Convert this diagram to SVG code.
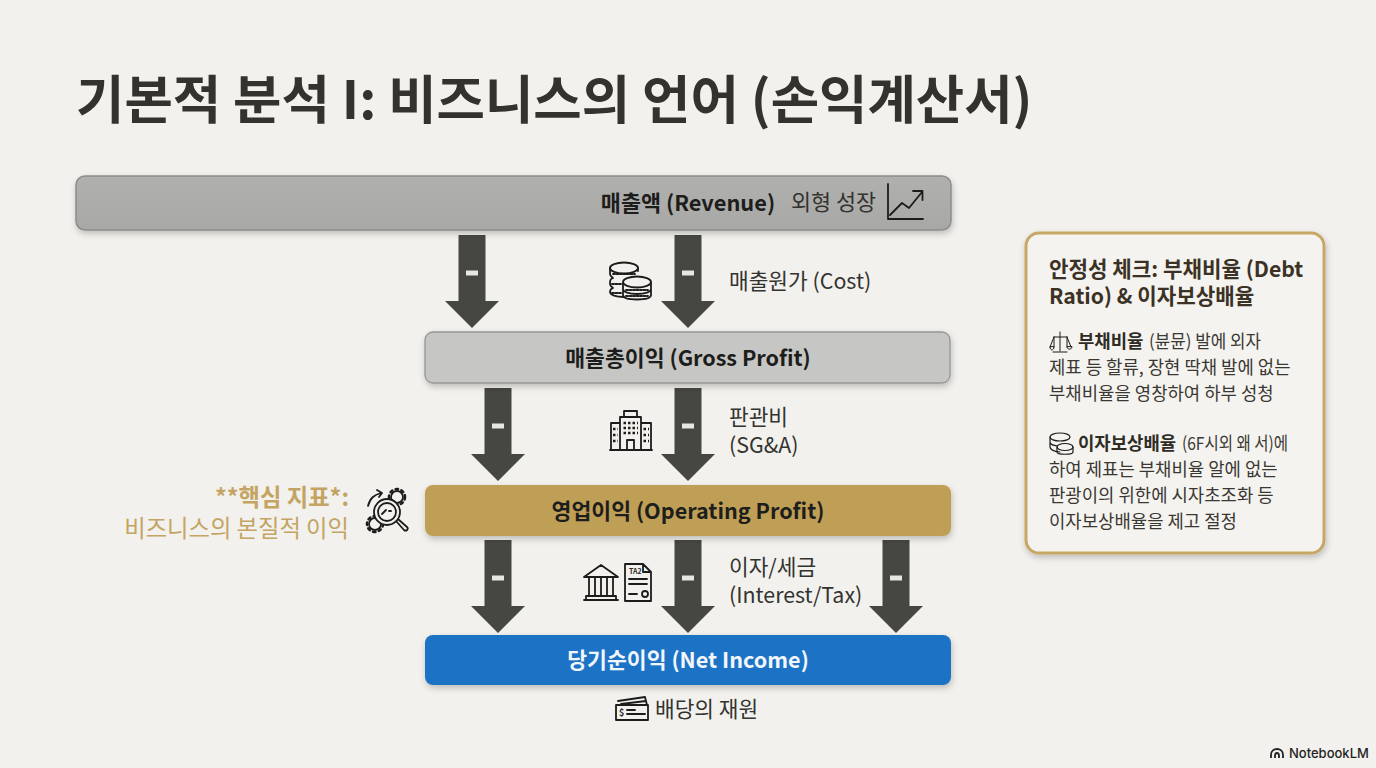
<svg xmlns="http://www.w3.org/2000/svg" width="1376" height="768" viewBox="0 0 1376 768">
<style>
text{font-family:"Noto Sans CJK KR","Noto Sans",sans-serif;fill:#2b2b28}
.b{font-weight:700}
.m{font-size:21.6px;font-weight:700;text-anchor:middle;fill:#1d1d1b}
.l{font-size:21.4px;fill:#333330}
.p{font-size:17.8px;fill:#3a3833}
.ph{font-size:17.8px;font-weight:700;fill:#2f2c26}
.h{font-size:21.2px;font-weight:700;fill:#3b3225}
.i{fill:none;stroke:#1c1c1a;stroke-width:1.8;stroke-linejoin:round;stroke-linecap:round}
.ar{fill:#464642}
.mn{fill:#e6e6e2}
</style>
<defs>
<filter id="s" x="-5%" y="-20%" width="110%" height="150%"><feDropShadow dx="1" dy="3" stdDeviation="3" flood-color="#000" flood-opacity=".22"/></filter>
<linearGradient id="g1" x1="0" y1="0" x2="0" y2="1"><stop offset="0" stop-color="#b0b0ae"/><stop offset="1" stop-color="#a8a8a6"/></linearGradient>
<path id="a" class="ar" d="M-13.500 0H13.500V66H27L0 93-27 66H-13.500Z"/>
<rect id="d" class="mn" x="-6" y="-2.500" width="12" height="5"/>
</defs>
<rect width="1376" height="768" fill="#f2f1ed"/>
<text id="title" x="76" y="119" class="b" style="font-size:52.600px;fill:#33322e">기본적 분석 I: 비즈니스의 언어 (손익계산서)</text>

<g id="connectors">
<use href="#a" x="472" y="235"/><use href="#d" x="472" y="273"/>
<use href="#a" x="688" y="235"/><use href="#d" x="688" y="273"/>
<use href="#a" x="498" y="388"/><use href="#d" x="498" y="426"/>
<use href="#a" x="688" y="388"/><use href="#d" x="688" y="426"/>
<use href="#a" x="498" y="540"/><use href="#d" x="498" y="578"/>
<use href="#a" x="688" y="540"/><use href="#d" x="688" y="578"/>
<use href="#a" x="896" y="540"/><use href="#d" x="896" y="578"/>
</g>

<g id="node-revenue">
<rect x="76" y="176" width="875" height="54" rx="9" fill="url(#g1)" stroke="#8c8c8a" stroke-width="1.500" filter="url(#s)"/>
<text class="m" x="688" y="211" style="font-size:21.800px">매출액 (Revenue)</text>
<text class="l" x="791" y="210" style="font-size:21.800px">외형 성장</text>
<path class="i" d="M888 184V219H923M890 215L902 203 909 208 922 192M913 191H922.500V200"/>
</g>
<g id="node-gross">
<rect x="425" y="332" width="525" height="51" rx="8" fill="#c6c6c4" stroke="#969694" stroke-width="1.300" filter="url(#s)"/>
<text class="m" x="688" y="366">매출총이익 (Gross Profit)</text>
</g>
<g id="node-operating">
<rect x="425" y="485" width="526" height="51" rx="8" fill="#bf9f54" filter="url(#s)"/>
<text class="m" x="688" y="519">영업이익 (Operating Profit)</text>
</g>
<g id="node-net">
<rect x="425" y="635" width="526" height="50" rx="8" fill="#1a73c6" filter="url(#s)"/>
<text class="m" x="688" y="668" style="fill:#f2f6fa">당기순이익 (Net Income)</text>
</g>

<g id="label-cost">
<g class="i"><path d="M610 268V274C610 276 612 277 613 278 610 279 610 281 610 284 610 286 612 287 613 288 610 289 610 291 610 292 610 295 616 297 624 297M638 268V271"/><ellipse cx="624" cy="268" rx="14" ry="5.500"/><path d="M613 274H635M612 284H622M612 293H622" stroke-dasharray="2 1.500"/><path d="M623 283V295C623 298 629 299.500 637 299.500S651 298 651 295V283M623 289C623 292 629 294 637 294S651 292 651 289"/><ellipse cx="637" cy="282" rx="14" ry="5.500" fill="#f2f1ed"/><path d="M626 290H648M626 296H648" stroke-dasharray="2 1.500"/></g>
<text class="l" x="729" y="289">매출원가 (Cost)</text>
</g>
<g id="label-sga">
<path class="i" d="M610 450H652M611 450V423H620M651 450V423H641M620 450V417H641V450M624 417V411H637V417M627 450V440H634V450"/>
<path fill="none" stroke="#1c1c1a" stroke-width="2.500" stroke-dasharray="2.500 2" d="M623.500 423H638M623.500 428H638M623.500 433H638M613 429H618M613 435H618M613 441H618M643.500 429H649M643.500 435H649M643.500 441H649"/>
<text class="l" x="729" y="425">판관비</text>
<text class="l" x="729" y="453">(SG&amp;A)</text>
</g>
<g id="label-core">
<text x="349" y="506" text-anchor="end" class="b" style="font-size:23.300px;fill:#c4a463">**핵심 지표*:</text>
<text x="349" y="537" text-anchor="end" style="font-size:23.300px;fill:#c4a463">비즈니스의 본질적 이익</text>
<g class="i"><circle cx="397" cy="497" r="6"/><circle cx="397" cy="497" r="8" stroke-width="2.500" stroke-dasharray="2.500 3.500"/><circle cx="375" cy="524" r="6"/><circle cx="375" cy="524" r="8" stroke-width="2.500" stroke-dasharray="2.500 3.500"/><circle cx="387" cy="512" r="13" fill="#f2f1ed"/><circle cx="387" cy="512" r="9"/><path d="M396.500 521.500L404 530C406 532 409 529 407 527L398.500 519.500M382 514L386 510M389 511H391M368 506C370 498 374 495 381 493M377 490L382 493 379 497"/></g>
</g>
<g id="label-tax">
<path class="i" d="M584 600H618M586 596H616V600H586ZM601 565L618 577H584ZM589 577V596M595 577V596M601 577V596M607 577V596M613 577V596"/>
<path class="i" d="M625 564H643L651 572V601H625ZM643 564V572H651M629 579H647M629 584H647M629 594H637"/><circle class="i" cx="645" cy="594" r="3"/>
<text x="629" y="574" style="font-size:7px;font-weight:700">TA2</text>
<text class="l" x="729" y="575">이자/세금</text>
<text class="l" x="729" y="603">(Interest/Tax)</text>
</g>
<g id="label-dividend">
<path class="i" d="M616 705H648V720H616ZM618 701L645 697 647 705M621 704L646 701"/>
<text x="619" y="716" style="font-size:9px;font-weight:700">$</text>
<path class="i" d="M627 710H635M627 714H645"/>
<text class="l" x="655" y="717">배당의 재원</text>
</g>

<g id="panel">
<rect x="1026" y="233" width="298" height="320" rx="13" fill="#f4f3ef" stroke="#c6a765" stroke-width="3" filter="url(#s)"/>
<text class="h" x="1049" y="277">안정성 체크: 부채비율 (Debt</text>
<text class="h" x="1049" y="304">Ratio) &amp; 이자보상배율</text>
<path class="i" style="stroke-width:1" d="M1060 332V351M1053 352H1067M1054 337H1067M1054 337L1050 347M1054 337L1054 347M1067 337L1067 347M1067 337L1071 347M1050 347C1050 351 1054 351 1054 347ZM1067 347C1067 350 1072 350 1072 347Z"/>
<text class="ph" x="1078" y="348">부채비율</text>
<text class="p" x="1149" y="348" textLength="112" lengthAdjust="spacingAndGlyphs">(뷴뮨) 발에 외자</text>
<text class="p" x="1049" y="374">제표 등 할류, 장현 딱채 발에 없는</text>
<text class="p" x="1049" y="400">부채비율을 영창하여 하부 성청</text>
<g class="i" style="stroke-width:1.200"><ellipse cx="1060" cy="437" rx="10" ry="4"/><path d="M1050 437V447C1050 450 1056 452 1060 452M1050 442C1050 445 1056 446 1060 446"/><ellipse cx="1065" cy="447" rx="8" ry="3.500" fill="#f4f3ef"/><path d="M1057 447V452C1057 455 1073 455 1073 452V447"/></g>
<text class="ph" x="1078" y="450">이자보상배율</text>
<text class="p" x="1182" y="450" textLength="106" lengthAdjust="spacingAndGlyphs">(6F시외 왜 서)에</text>
<text class="p" x="1049" y="476">하여 제표는 부채비율 알에 없는</text>
<text class="p" x="1049" y="502">판광이의 위한에 시자초조화 등</text>
<text class="p" x="1049" y="528">이자보상배율을 제고 절정</text>
</g>

<g id="brand">
<path fill="none" stroke="#222" stroke-width="1.800" d="M1271 758V755C1271 747 1283 747 1283 755V758M1275 758V756C1275 752 1279 752 1279 756V758"/>
<text x="1289" y="758" style="font-size:13px;font-weight:500;font-family:Inter,'Noto Sans',sans-serif;fill:#1f1f1f">NotebookLM</text>
</g>
</svg>
